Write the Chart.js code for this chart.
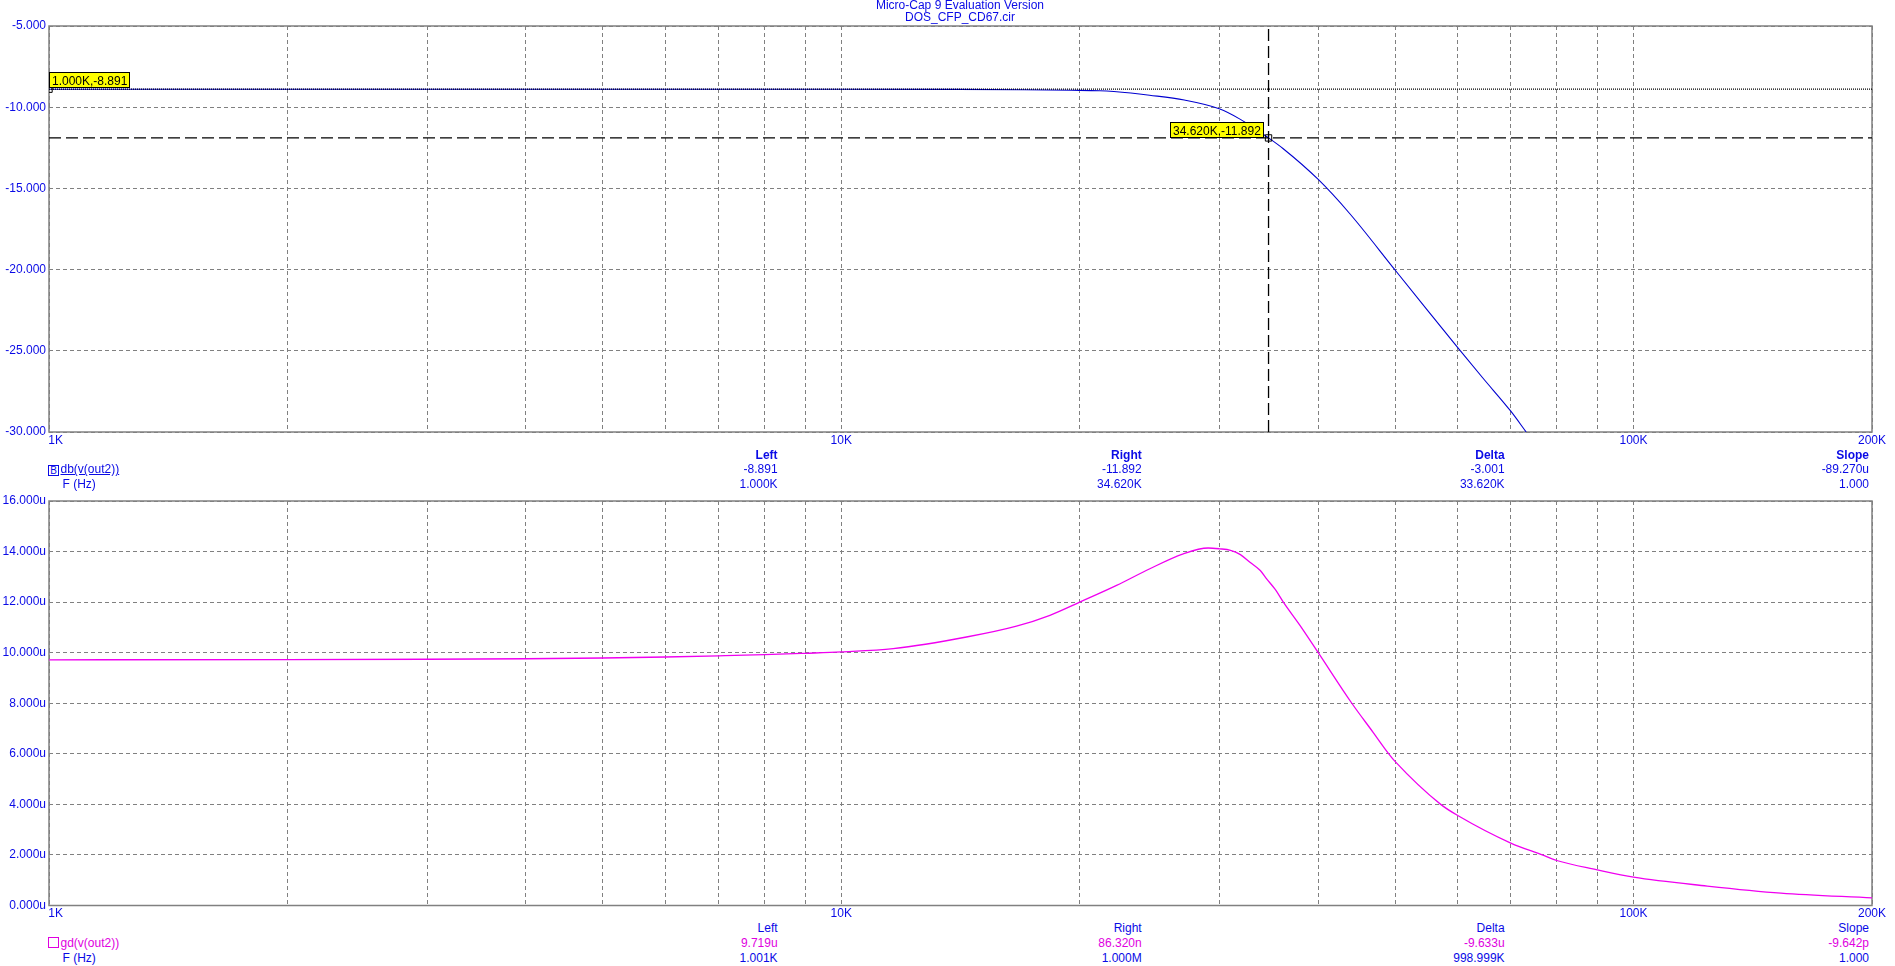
<!DOCTYPE html>
<html>
<head>
<meta charset="utf-8">
<script src="https://cdn.jsdelivr.net/npm/chart.js@4.4.1/dist/chart.umd.min.js"></script>
<style>
  html, body { margin: 0; padding: 0; background: #fff; overflow: hidden; }
  #wrap { position: relative; width: 1895px; height: 966px; font-family: "Liberation Sans", Arial, sans-serif; font-size: 12px; line-height: 14px; color: #0a0ae6; }
  canvas { position: absolute; left: 0; }
  #dbChart { top: 0; }
  #gdChart { top: 490px; }
  .t { position: absolute; white-space: pre; }
  .r { text-align: right; }
  .b { font-weight: bold; }
  .mag { color: #e000e0; }
  .box { position: absolute; width: 9px; height: 9px; font-size: 10px; line-height: 9px; text-align: center; }
</style>
</head>
<body>
<div id="wrap">
  <canvas id="dbChart" width="1895" height="450"></canvas>
  <canvas id="gdChart" width="1895" height="430"></canvas>
  <div class="t" style="left:960px;top:-2px;transform:translateX(-50%)">Micro-Cap 9 Evaluation Version</div>
  <div class="t" style="left:960px;top:10px;transform:translateX(-50%)">DOS_CFP_CD67.cir</div>
  <div class="box" style="left:48px;top:465px;border:1px solid #0a0ae6">B</div>
  <div class="t" style="left:60.5px;top:462.3px;text-decoration:underline">db(v(out2))</div>
  <div class="t" style="left:62.5px;top:476.8px">F (Hz)</div>
  <div class="box" style="left:48px;top:937px;border:1px solid #e000e0"></div>
  <div class="t mag" style="left:60.5px;top:935.8px">gd(v(out2))</div>
  <div class="t" style="left:62.5px;top:950.8px">F (Hz)</div>
</div>
<script>
// frequency axis (Hz)
var xMin = 1000, xMax = 200000;
var gridFreqs = [1000,2000,3000,4000,5000,6000,7000,8000,9000,10000,20000,30000,40000,50000,60000,70000,80000,90000,100000,200000];
var xTickValues = [1000, 10000, 100000, 200000];
var xTickLabels = ['    1K', '10K', '100K', '200K'];

// db(v(out2))
var dbFreq = [1000,5000,10000,14000,17000,19500,21200,23200,24500,27100,30000,31900,34620,36100,40000,43850,50000,54800,60000,64500,70000,73200];
var dbValues = [-8.891,-8.891,-8.892,-8.905,-8.93,-8.96,-8.99,-9.13,-9.26,-9.56,-10.1,-10.75,-11.892,-12.54,-14.45,-16.56,-20.02,-22.43,-24.8,-26.66,-28.72,-30.0];

// gd(v(out2)) in microseconds
var gdFreq = [1000,2000,3000,4000,5000,6000,7000,8000,9000,10000,11630,14390,16640,18340,20000,22260,24520,27020,29050,30000,31000,31900,32800,33800,34430,35300,36140,37930,40000,44100,46940,49100,50000,57100,60000,70000,76700,80000,90000,100000,123900,153500,200000];
var gdValues = [9.719,9.725,9.74,9.76,9.79,9.83,9.875,9.92,9.975,10.03,10.16,10.62,11.05,11.48,12.0,12.66,13.32,13.91,14.14,14.11,14.05,13.88,13.58,13.25,12.92,12.5,12.0,11.08,10.0,8.0,6.84,6.0,5.7,4.0,3.56,2.47,2.0,1.78,1.41,1.12,0.77,0.49,0.30];

// cursors on the db plot
var cursorLeft = { f: 1000, v: -8.891 };
var cursorRight = { f: 34620, v: -11.892 };

// readouts
var readHeads = ['Left', 'Right', 'Delta', 'Slope'];
var dbRead = ['-8.891', '-11.892', '-3.001', '-89.270u'];
var dbFreqRead = ['1.000K', '34.620K', '33.620K', '1.000'];
var gdRead = ['9.719u', '86.320n', '-9.633u', '-9.642p'];
var gdFreqRead = ['1.001K', '1.000M', '998.999K', '1.000'];
var colRight = [777.6, 1141.7, 1504.6, 1869];

var FONT = '"Liberation Sans", Arial, sans-serif';
var BLUE_TXT = '#0a0ae6';
var GRID = '#808080';

function pts(xs, ys) { return xs.map(function (x, i) { return { x: x, y: ys[i] }; }); }

var frame = {
  id: 'frame',
  beforeDatasetsDraw: function (chart) {
    var a = chart.chartArea, ctx = chart.ctx;
    ctx.save();
    ctx.strokeStyle = GRID;
    ctx.lineWidth = 1.5;
    ctx.strokeRect(a.left, a.top, a.right - a.left, a.bottom - a.top);
    ctx.restore();
  }
};

var cursorTags = {
  id: 'cursorTags',
  afterDatasetsDraw: function (chart) {
    var ctx = chart.ctx, xs = chart.scales.x, ys = chart.scales.y;
    ctx.save();
    ctx.font = '12px ' + FONT;
    [[cursorLeft, 'right'], [cursorRight, 'left']].forEach(function (c) {
      var px = xs.getPixelForValue(c[0].f), py = ys.getPixelForValue(c[0].v);
      var text = (c[0].f / 1000).toFixed(3) + 'K,' + c[0].v.toFixed(3);
      var w = Math.round(ctx.measureText(text).width) + 6, h = 16;
      var left = c[1] === 'right' ? Math.round(px) : Math.round(px - 5 - w);
      var top = c[1] === 'right' ? Math.round(py - 1 - h) : Math.round(py - h);
      ctx.fillStyle = '#ffff00';
      ctx.fillRect(left, top, w, h);
      ctx.strokeStyle = '#000';
      ctx.lineWidth = 1;
      ctx.strokeRect(left + 0.5, top + 0.5, w - 1, h - 1);
      ctx.fillStyle = '#000';
      ctx.fillText(text, left + 3, top + 12.5);
    });
    ctx.restore();
  }
};

function xScale(h) {
  return {
    type: 'logarithmic', min: xMin, max: xMax,
    afterBuildTicks: function (s) { s.ticks = gridFreqs.map(function (v) { return { value: v }; }); },
    afterFit: function (s) { s.height = h; },
    ticks: {
      autoSkip: false, maxRotation: 0, minRotation: 0, padding: 1,
      color: BLUE_TXT, font: { family: FONT, size: 12 },
      callback: function (v) { var i = xTickValues.indexOf(v); return i < 0 ? '' : xTickLabels[i]; }
    },
    grid: { color: GRID, lineWidth: 1, drawTicks: false },
    border: { display: false, dash: [4, 3] }
  };
}

function yScale(min, max, step, fmt) {
  return {
    min: min, max: max,
    afterFit: function (s) { s.width = 49; },
    ticks: { stepSize: step, padding: 3, color: BLUE_TXT, font: { family: FONT, size: 12 }, callback: fmt },
    grid: { color: GRID, lineWidth: 1, drawTicks: false },
    border: { display: false, dash: [4, 3] }
  };
}

var common = {
  responsive: false, animation: false, devicePixelRatio: 1, events: [],
  plugins: { legend: { display: false }, tooltip: { enabled: false } }
};

new Chart(document.getElementById('dbChart'), {
  type: 'line',
  data: {
    datasets: [
      { data: [{ x: xMin, y: cursorLeft.v }, { x: xMax, y: cursorLeft.v }], borderColor: '#000', borderWidth: 1.3, borderDash: [1, 1], pointRadius: 0, order: 0 },
      { data: [{ x: xMin, y: cursorRight.v }, { x: xMax, y: cursorRight.v }], borderColor: '#000', borderWidth: 1.3, borderDash: [12, 5], pointRadius: 0, order: 0 },
      { data: [{ x: cursorRight.f, y: -30 }, { x: cursorRight.f, y: -5 }], borderColor: '#000', borderWidth: 1.3, borderDash: [12, 5], pointRadius: 0, order: 0 },
      { data: [{ x: cursorLeft.f, y: cursorLeft.v }, { x: cursorRight.f, y: cursorRight.v }], showLine: false, pointStyle: 'rect', pointRadius: 4.5, pointBorderColor: '#000', pointBackgroundColor: 'rgba(0,0,0,0)', pointBorderWidth: 1, clip: 0, order: 0 },
      { data: pts(dbFreq, dbValues), borderColor: '#0000d0', borderWidth: 1.1, pointRadius: 0, cubicInterpolationMode: 'monotone', order: 1 }
    ]
  },
  options: Object.assign({}, common, {
    layout: { padding: { top: 26, right: 23, left: 0, bottom: 0 } },
    scales: {
      x: xScale(18),
      y: yScale(-30, -5, 5, function (v) { return v.toFixed(3); })
    }
  }),
  plugins: [frame, cursorTags]
});

new Chart(document.getElementById('gdChart'), {
  type: 'line',
  data: {
    datasets: [
      { data: pts(gdFreq, gdValues), borderColor: '#f000f0', borderWidth: 1.3, pointRadius: 0, cubicInterpolationMode: 'monotone' }
    ]
  },
  options: Object.assign({}, common, {
    layout: { padding: { top: 11, right: 23, left: 0, bottom: 0 } },
    scales: {
      x: xScale(14.5),
      y: yScale(0, 16, 2, function (v) { return v.toFixed(3) + 'u'; })
    }
  }),
  plugins: [frame]
});

// cursor readouts
var wrap = document.getElementById('wrap');
function addText(txt, right, top, cls) {
  var d = document.createElement('div');
  d.className = 't r ' + (cls || '');
  d.style.right = (1895 - right) + 'px';
  d.style.top = top + 'px';
  d.textContent = txt;
  wrap.appendChild(d);
}
colRight.forEach(function (x, i) {
  addText(readHeads[i], x, 447.8, 'b');
  addText(dbRead[i], x, 462.3, '');
  addText(dbFreqRead[i], x, 476.8, '');
  addText(readHeads[i], x, 920.8, '');
  addText(gdRead[i], x, 935.8, 'mag');
  addText(gdFreqRead[i], x, 950.8, '');
});
</script>
</body>
</html>
